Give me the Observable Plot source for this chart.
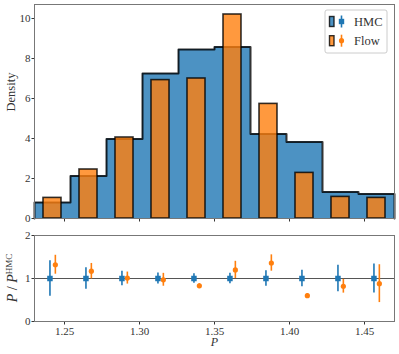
<!DOCTYPE html>
<html><head><meta charset="utf-8">
<script src="https://cdn.jsdelivr.net/npm/d3@7"></script>
<script src="https://cdn.jsdelivr.net/npm/@observablehq/plot@0.6"></script>
<style>
body{margin:0;background:#fff;}
#chart svg{display:block;}
</style></head><body><div id="chart"></div>
<script>
// ---- data ----
const binEdges = [1.230,1.254,1.278,1.302,1.326,1.350,1.374,1.398,1.422,1.446,1.470];
const binCenters = [1.242,1.266,1.290,1.314,1.338,1.362,1.386,1.410,1.434,1.458];
const hmcDensity = [0.80,2.12,3.97,7.25,8.45,8.58,4.23,3.83,1.33,1.23];
const flowDensity = [1.03,2.45,4.05,6.92,7.00,10.20,5.73,2.28,1.08,1.03];
const hmcRatio = [1,1,1,1,1,1,1,1,1,1];
const hmcRatioErr = [0.41,0.25,0.17,0.13,0.11,0.12,0.18,0.19,0.31,0.34];
const flowRatio = [1.32,1.17,1.01,0.97,0.83,1.20,1.36,0.60,0.82,0.88];
const flowRatioErr = [0.22,0.18,0.14,0.15,0.05,0.20,0.19,0.05,0.16,0.44];
const xTicks = [1.25,1.30,1.35,1.40,1.45];
const yTicksTop = [0,2,4,6,8,10];
const yTicksBottom = [0,1,2];
const seriesNames = ["HMC","Flow"];

// ---- styling ----
const BLUE = "#1f77b4", ORANGE = "#ff7f0e";
const FONT = "'Liberation Serif','DejaVu Serif',serif";
const W = 399;
const barHalf = 0.006, offHMC = -0.0017, offFlow = 0.0019;

// ---- derived tables ----
const stepPts = binEdges.map((e, i) => ({x: e, y: hmcDensity[Math.min(i, hmcDensity.length - 1)]}));
const outlinePts = [{x: binEdges[0], y: 0}, ...stepPts, {x: binEdges[binEdges.length - 1], y: 0}];
const flowBars = binCenters.map((c, i) => ({c, v: flowDensity[i]}));
const hmcRows = binCenters.map((c, i) => ({c, v: hmcRatio[i], e: hmcRatioErr[i]}));
const flowRows = binCenters.map((c, i) => ({c, v: flowRatio[i], e: flowRatioErr[i]}));

const topPlot = Plot.plot({
  width: W, height: 225,
  marginLeft: 34, marginRight: 5, marginTop: 4, marginBottom: 7,
  style: {fontFamily: FONT, fontSize: "11px", background: "white", color: "#333"},
  x: {domain: [1.23, 1.47]},
  y: {domain: [0, 10.7]},
  marks: [
    Plot.areaY(stepPts, {x: "x", y: "y", curve: "step-after", fill: BLUE, fillOpacity: 0.8}),
    Plot.lineY(outlinePts, {x: "x", y: "y", curve: "step-after", stroke: "black", strokeOpacity: 0.8, strokeWidth: 2}),
    Plot.rectY(flowBars, {x1: d => d.c - barHalf, x2: d => d.c + barHalf, y: "v", fill: ORANGE, fillOpacity: 0.8, stroke: "black", strokeOpacity: 0.8, strokeWidth: 1.6}),
    Plot.axisY({ticks: yTicksTop, tickSize: 2.5, tickPadding: 1.5, tickFormat: d3.format("d"), label: null, fontSize: 11}),
    Plot.axisX({ticks: xTicks, tickSize: 3.5, tickFormat: () => "", label: null}),
    Plot.text(["Density"], {frameAnchor: "left", dx: -24, rotate: -90, fontSize: 12.5, lineAnchor: "middle"}),
    Plot.frame({stroke: "#777"})
  ]
});

const bottomPlot = Plot.plot({
  width: W, height: 129,
  marginLeft: 34, marginRight: 5, marginTop: 10, marginBottom: 33,
  style: {fontFamily: FONT, fontSize: "11px", background: "white", color: "#333"},
  x: {domain: [1.23, 1.47]},
  y: {domain: [0, 2]},
  marks: [
    Plot.ruleY([1], {stroke: "#555", strokeWidth: 1}),
    Plot.ruleX(hmcRows, {x: d => d.c + offHMC, y1: d => d.v - d.e, y2: d => d.v + d.e, stroke: BLUE, strokeWidth: 1.6}),
    Plot.dot(hmcRows, {x: d => d.c + offHMC, y: "v", symbol: "square", r: 3.1, fill: BLUE}),
    Plot.ruleX(flowRows, {x: d => d.c + offFlow, y1: d => d.v - d.e, y2: d => d.v + d.e, stroke: ORANGE, strokeWidth: 1.6}),
    Plot.dot(flowRows, {x: d => d.c + offFlow, y: "v", symbol: "circle", r: 2.6, fill: ORANGE}),
    Plot.axisY({ticks: yTicksBottom, tickSize: 2.5, tickPadding: 1.5, tickFormat: d3.format("d"), label: null, fontSize: 11}),
    Plot.axisX({ticks: xTicks, tickSize: 3.5, tickPadding: 2, tickFormat: d3.format(".2f"), label: null, fontSize: 11}),
    Plot.text(["P"], {frameAnchor: "bottom", dy: 21, lineAnchor: "middle", fontStyle: "italic", fontSize: 12}),
    Plot.frame({stroke: "#777"})
  ]
});

const root = document.getElementById("chart");
root.appendChild(topPlot);
root.appendChild(bottomPlot);

// ---- legend on the top panel ----
const sTop = d3.select(topPlot);
const lg = sTop.append("g").attr("font-family", FONT).attr("text-anchor", "start");
lg.append("rect").attr("x", 325).attr("y", 10).attr("width", 62).attr("height", 43)
  .attr("rx", 2).attr("fill", "white").attr("fill-opacity", 0.85).attr("stroke", "#ccc");
const rows = [{name: seriesNames[0], color: BLUE, y: 21.5, sym: "square"}, {name: seriesNames[1], color: ORANGE, y: 40.7, sym: "circle"}];
rows.forEach(r => {
  lg.append("rect").attr("x", 329.5).attr("y", r.y - 5).attr("width", 4.5).attr("height", 10)
    .attr("fill", r.color).attr("fill-opacity", 0.8).attr("stroke", "black").attr("stroke-opacity", 0.8).attr("stroke-width", 1.4);
  lg.append("line").attr("x1", 341.5).attr("x2", 341.5).attr("y1", r.y - 6).attr("y2", r.y + 6)
    .attr("stroke", r.color).attr("stroke-width", 1.6);
  if (r.sym === "square") lg.append("rect").attr("x", 341.5 - 2.7).attr("y", r.y - 2.7).attr("width", 5.4).attr("height", 5.4).attr("fill", r.color);
  else lg.append("circle").attr("cx", 341.5).attr("cy", r.y).attr("r", 2.6).attr("fill", r.color);
  lg.append("text").attr("x", 354).attr("y", r.y).attr("dy", "0.35em").attr("font-size", 12.5).attr("fill", "#333").text(r.name);
});

// ---- y label of the bottom panel ----
const sBot = d3.select(bottomPlot);
const yl = sBot.append("text").attr("transform", "translate(17,53) rotate(-90)")
  .attr("text-anchor", "middle").attr("font-family", FONT).attr("font-size", 14).attr("fill", "#333");
yl.append("tspan").attr("font-style", "italic").text("P");
yl.append("tspan").text(" / ");
yl.append("tspan").attr("font-style", "italic").text("P");
yl.append("tspan").attr("font-size", 9).attr("dy", "-0.6em").text("HMC");
</script></body></html>
